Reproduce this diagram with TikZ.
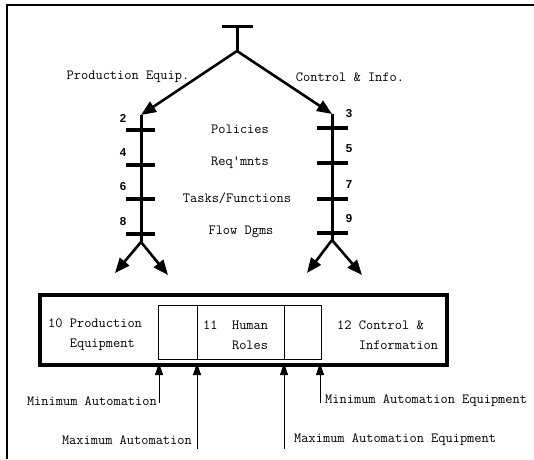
\documentclass[tikz,border=0pt]{standalone}
\usepackage{fontspec}
\setsansfont{Liberation Sans}
\usetikzlibrary{arrows.meta}

\begin{document}
\begin{tikzpicture}[%
	x=1pt,y=-1pt,
	every node/.style = {font=\ttfamily\fontsize{14}{20}\selectfont, inner sep=0pt},
	stem/.style={line width=3pt},
	rung/.style={line width=4pt},
	bigarrow/.style={line width=2.6pt, -{Triangle[length=15pt,width=12pt]}},
	uparrow/.style={line width=0.8pt, -{Triangle[length=12pt,width=8pt]}},
	num/.style={font=\sffamily\bfseries\fontsize{11.5}{12}\selectfont},
	box/.style={align=left, anchor=west}
	]
  \useasboundingbox (0,0) rectangle (534,459);
  \draw [line width=2pt] (7,459) -- (7,5) -- (534,5);
  % top of the tree
  \coordinate (barL) at (222,26);
  \coordinate (barR) at (253,26);
  \coordinate (top) at (237,26);
  \coordinate (root) at (237,51);
  \coordinate (lhead) at (141,115);
  \coordinate (rhead) at (332,114);
  \draw [stem] (barL) -- (barR);
  \draw [stem] (top) -- (root);
  \draw [bigarrow] (root) -- (lhead);
  \draw [bigarrow] (root) -- (rhead);
  \node (prod) at (128,77) {Production Equip.};
  \node (ctrl) at (350,77) {Control \& Info.};
  % the two ladders
  \coordinate (lfoot) at (141,242);
  \coordinate (rfoot) at (332,240);
  \draw [stem] (lhead) -- (lfoot);
  \draw [stem] (rhead) -- (rfoot);
  \foreach \y/\n [count=\i] in {130/2,165/4,199/6,234/8} {
    \coordinate (l\i) at (141,\y);
    \draw [rung] ([xshift=-15pt]l\i) -- ([xshift=14pt]l\i);
    \node [num] (nl\i) at (123,\y-12) {\n};
  }
  \foreach \y/\n [count=\i] in {128/3,163/5,199/7,233/9} {
    \coordinate (r\i) at (332,\y);
    \draw [rung] ([xshift=-15pt]r\i) -- ([xshift=16pt]r\i);
    \node [num] (nr\i) at (349,\y-14) {\n};
  }
  \coordinate (lfork1) at (115,273);
  \coordinate (lfork2) at (168,275);
  \coordinate (rfork1) at (307,273);
  \coordinate (rfork2) at (362,275);
  \draw [bigarrow] (lfoot) -- (lfork1);
  \draw [bigarrow] (lfoot) -- (lfork2);
  \draw [bigarrow] (rfoot) -- (rfork1);
  \draw [bigarrow] (rfoot) -- (rfork2);
  \node (pol) at (240,129) {Policies};
  \node (req) at (240,163) {Req'mnts};
  \node (task) at (237,198) {Tasks/Functions};
  \node (flow) at (241,232) {Flow Dgms};
  % the allocation box
  \draw [line width=4.5pt] (40,295) rectangle (447,365);
  \draw [line width=0.8pt] (158,305) rectangle (321,359);
  \draw [line width=0.8pt] (197,305) -- (197,359);
  \draw [line width=0.8pt] (284,305) -- (284,359);
  \node [box] (equip) at (48,335) {10 Production\\\phantom{10 }Equipment};
  \node [box] (human) at (203,335) {11\ \ Human\\\phantom{11\ \ }Roles};
  \node [box] (info) at (337,335) {12 Control \&\\\phantom{12 }Information};
  % the four limits
  \foreach \x/\b/\name in {159/403/minA,197/449/maxA,284/449/maxE,320/403/minE} {
    \coordinate (\name) at (\x,\b);
    \coordinate (\name top) at (\x,363);
    \draw [uparrow] (\name) -- (\name top);
  }
  \node [anchor=east] (minAt) at (157,401) {Minimum Automation};
  \node [anchor=east] (maxAt) at (192,440) {Maximum Automation};
  \node [anchor=west] (maxEt) at (294,440) {Maximum Automation Equipment};
  \node [anchor=west] (minEt) at (325,401) {Minimum Automation Equipment};
\end{tikzpicture}
\end{document}
